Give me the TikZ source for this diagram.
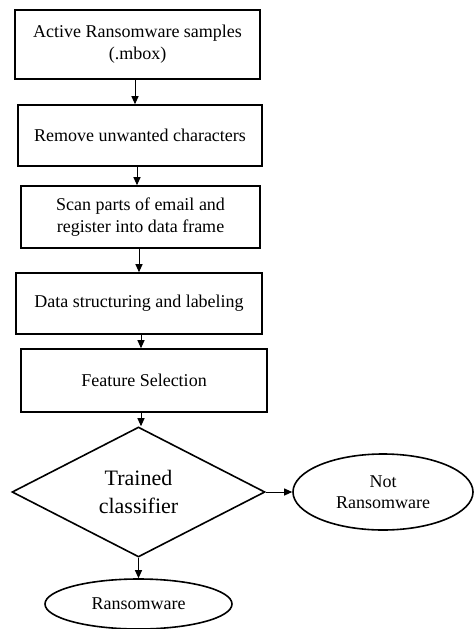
\documentclass[tikz,border=0pt]{standalone}
\usepackage{fontspec}
\setmainfont{Liberation Serif}
\usetikzlibrary{shapes.geometric,arrows.meta}
\begin{document}
\begin{tikzpicture}[x=1pt,y=-1pt,
  stepbox/.style={draw,line width=1.6pt,inner sep=0pt,align=center,font=\fontsize{18}{22}\selectfont},
  decide/.style={draw,diamond,line width=1.6pt,inner sep=0pt,aspect=1.95,align=center,font=\fontsize{22}{28}\selectfont},
  outcome/.style={draw,ellipse,line width=1.6pt,inner sep=0pt,align=center,font=\fontsize{18}{21}\selectfont},
  arr/.style={line width=1pt,-{Triangle[length=8pt,width=7pt]}}]
\useasboundingbox (0,0) rectangle (474,629);
\node[stepbox,minimum width=245,minimum height=69] (b1) at (137.5,44.5) {Active Ransomware samples\\(.mbox)};
\node[stepbox,minimum width=244,minimum height=61] (b2) at (140,135.5) {Remove unwanted characters};
\node[stepbox,minimum width=239,minimum height=62] (b3) at (140.5,217) {Scan parts of email and\\register into data frame};
\node[stepbox,minimum width=246,minimum height=61] (b4) at (139,303.5) {Data structuring and labeling};
\node[stepbox,minimum width=246,minimum height=63] (b5) at (144,380.5) {Feature Selection};
\node[decide,minimum width=253,minimum height=130] (d) at (138.5,492) {Trained\\classifier};
\node[outcome,minimum width=180,minimum height=76] (nr) at (383,492) {Not\\Ransomware};
\node[outcome,minimum width=187,minimum height=50] (r) at (138.5,604) {Ransomware};
\coordinate (a1) at (135,0);
\coordinate (a2) at (137,0);
\coordinate (a3) at (139,0);
\coordinate (a4) at (141,0);
\coordinate (a5) at (141,0);
\draw[arr] (a1 |- b1.south) -- (a1 |- b2.north);
\draw[arr] (a2 |- b2.south) -- (a2 |- b3.north);
\draw[arr] (a3 |- b3.south) -- (a3 |- b4.north);
\draw[arr] (a4 |- b4.south) -- (a4 |- b5.north);
\draw[arr] (a5 |- b5.south) -- (a5 |- d.north);
\draw[arr] (d.east) -- (nr.west);
\draw[arr] (d.south) -- (d.south |- r.north);
\end{tikzpicture}
\end{document}
